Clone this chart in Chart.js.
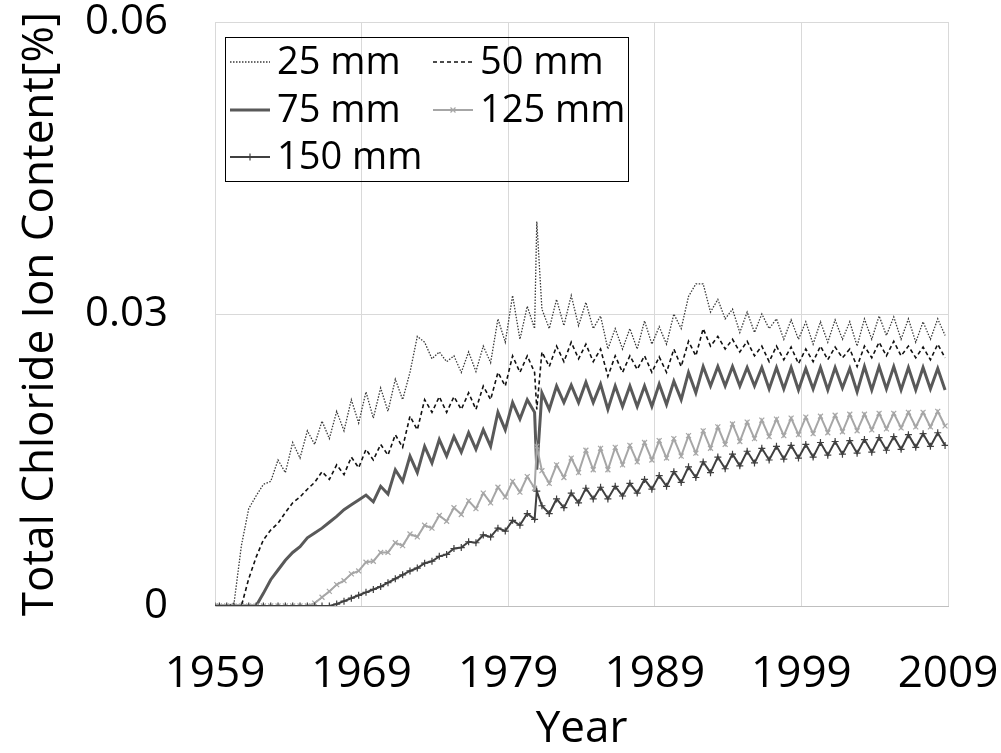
<!DOCTYPE html>
<html>
<head>
<meta charset="utf-8">
<title>Total Chloride Ion Content</title>
<script src="https://cdn.jsdelivr.net/npm/chart.js@4.4.1/dist/chart.umd.min.js"></script>
<style>
  html, body { margin: 0; padding: 0; background: #fff; }
  canvas { display: block; }
</style>
</head>
<body>
<canvas id="chart" width="1001" height="753"></canvas>
<script>
  // Profundidades (series) y lecturas semestrales (pico / valle de cada año).
  const DEPTHS = ["25 mm", "50 mm", "75 mm", "125 mm", "150 mm"];
  const X_TICKS = [1959, 1969, 1979, 1989, 1999, 2009];
  const Y_TICKS = [0, 0.03, 0.06];

  // Primer valor = 1959.0; después dos lecturas por año (año+0.3, año+0.8).
  const Y25 = [0,
    0,0, 0.0003,0.0062, 0.0100,0.0113, 0.0125,0.0128, 0.0150,0.0137, 0.0168,0.0152, 0.0180,0.0166, 0.0190,0.0172, 0.0200,0.0180, 0.0212,0.0188,
    0.0220,0.0193, 0.0224,0.0200, 0.0233,0.0212, 0.0240,0.0277, 0.0271,0.0254, 0.0261,0.0251, 0.0257,0.0240, 0.0261,0.0241, 0.0267,0.0250, 0.0295,0.0271,
    0.0319,0.0274, 0.0308,0.0285, 0.0305,0.0285, 0.0315,0.0288, 0.0319,0.0288, 0.0312,0.0285, 0.0298,0.0264, 0.0285,0.0264, 0.0285,0.0264, 0.0293,0.0269,
    0.0287,0.0269, 0.0300,0.0285, 0.0318,0.0331, 0.0331,0.0302, 0.0315,0.0295, 0.0305,0.0281, 0.0302,0.0281, 0.0300,0.0285, 0.0295,0.0274, 0.0294,0.0274,
    0.0292,0.0269, 0.0292,0.0271, 0.0294,0.0274, 0.0292,0.0267, 0.0295,0.0274, 0.0298,0.0278, 0.0297,0.0274, 0.0295,0.0271, 0.0292,0.0274, 0.0295,0.0278];
  const Y50 = [0,
    0,0, 0,0, 0.0028,0.0050, 0.0068,0.0078, 0.0085,0.0096, 0.0106,0.0112, 0.0120,0.0127, 0.0138,0.0130, 0.0145,0.0135, 0.0153,0.0142,
    0.0161,0.0150, 0.0166,0.0155, 0.0176,0.0163, 0.0195,0.0181, 0.0212,0.0199, 0.0215,0.0199, 0.0215,0.0202, 0.0219,0.0202, 0.0226,0.0212, 0.0240,0.0226,
    0.0257,0.0240, 0.0257,0.0240, 0.0261,0.0246, 0.0267,0.0251, 0.0271,0.0254, 0.0269,0.0251, 0.0264,0.0236, 0.0257,0.0240, 0.0257,0.0243, 0.0257,0.0240,
    0.0256,0.0240, 0.0264,0.0246, 0.0272,0.0257, 0.0285,0.0267, 0.0277,0.0264, 0.0274,0.0261, 0.0272,0.0257, 0.0267,0.0251, 0.0267,0.0253, 0.0266,0.0249,
    0.0264,0.0251, 0.0267,0.0253, 0.0266,0.0255, 0.0264,0.0246, 0.0267,0.0255, 0.0271,0.0257, 0.0272,0.0257, 0.0267,0.0255, 0.0266,0.0253, 0.0269,0.0255];
  const Y75 = [0,
    0,0, 0,0, 0,0, 0.0013,0.0027, 0.0037,0.0047, 0.0055,0.0061, 0.0070,0.0075, 0.0080,0.0086, 0.0092,0.0099, 0.0104,0.0109,
    0.0114,0.0107, 0.0123,0.0115, 0.0140,0.0128, 0.0154,0.0137, 0.0164,0.0147, 0.0171,0.0154, 0.0174,0.0158, 0.0178,0.0161, 0.0181,0.0164, 0.0199,0.0181,
    0.0209,0.0192, 0.0212,0.0199, 0.0219,0.0202, 0.0226,0.0209, 0.0227,0.0209, 0.0230,0.0209, 0.0228,0.0202, 0.0226,0.0205, 0.0226,0.0205, 0.0226,0.0205,
    0.0228,0.0207, 0.0231,0.0212, 0.0240,0.0219, 0.0246,0.0226, 0.0246,0.0226, 0.0246,0.0226, 0.0245,0.0226, 0.0245,0.0223, 0.0245,0.0223, 0.0245,0.0222,
    0.0244,0.0223, 0.0245,0.0222, 0.0245,0.0224, 0.0244,0.0220, 0.0246,0.0222, 0.0246,0.0223, 0.0246,0.0222, 0.0245,0.0222, 0.0245,0.0223, 0.0244,0.0222];
  const Y125 = [0,
    0,0, 0,0, 0,0, 0,0, 0,0, 0,0, 0,0.0003, 0.0009,0.0015, 0.0022,0.0026, 0.0033,0.0036,
    0.0045,0.0046, 0.0055,0.0055, 0.0065,0.0062, 0.0074,0.0071, 0.0083,0.0080, 0.0093,0.0087, 0.0101,0.0094, 0.0108,0.0100, 0.0116,0.0106, 0.0122,0.0112,
    0.0128,0.0117, 0.0133,0.0121, 0.0139,0.0126, 0.0145,0.0132, 0.0152,0.0137, 0.0160,0.0140, 0.0162,0.0140, 0.0163,0.0145, 0.0165,0.0148, 0.0168,0.0150,
    0.0170,0.0152, 0.0172,0.0154, 0.0175,0.0157, 0.0180,0.0162, 0.0184,0.0166, 0.0187,0.0169, 0.0189,0.0172, 0.0191,0.0174, 0.0192,0.0175, 0.0193,0.0176,
    0.0194,0.0177, 0.0195,0.0178, 0.0196,0.0179, 0.0197,0.0180, 0.0197,0.0181, 0.0198,0.0182, 0.0198,0.0183, 0.0199,0.0184, 0.0199,0.0184, 0.0200,0.0185];
  const Y150 = [0,
    0,0, 0,0, 0,0, 0,0, 0,0, 0,0, 0,0, 0,0, 0.0002,0.0005, 0.0008,0.0011,
    0.0014,0.0017, 0.0020,0.0024, 0.0028,0.0032, 0.0036,0.0039, 0.0044,0.0046, 0.0051,0.0053, 0.0059,0.0060, 0.0066,0.0065, 0.0073,0.0071, 0.0080,0.0077,
    0.0088,0.0083, 0.0095,0.0089, 0.0103,0.0095, 0.0110,0.0101, 0.0116,0.0106, 0.0121,0.0110, 0.0122,0.0110, 0.0123,0.0113, 0.0126,0.0116, 0.0130,0.0120,
    0.0134,0.0123, 0.0138,0.0127, 0.0143,0.0132, 0.0148,0.0137, 0.0153,0.0141, 0.0156,0.0144, 0.0159,0.0147, 0.0162,0.0150, 0.0164,0.0151, 0.0165,0.0152,
    0.0166,0.0153, 0.0168,0.0155, 0.0169,0.0156, 0.0170,0.0157, 0.0171,0.0158, 0.0173,0.0160, 0.0174,0.0161, 0.0176,0.0163, 0.0177,0.0164, 0.0178,0.0165];

  // Mes anómalo de finales de 1980 (pico/caída en todas las series).
  const SPIKE_YEAR = 1980.95;
  const SPIKE = [0.0395, 0.0202, 0.0140, 0.0164, 0.0118];

  const SERIES = [Y25, Y50, Y75, Y125, Y150];

  // Eje temporal: 1959.0 y luego dos lecturas por año.
  const TIMES = [1959];
  for (let y = 1959; y < 2009; y++) TIMES.push(y + 0.3, y + 0.8);

  const STYLES = [
    { borderColor: "#3a3a3a", borderWidth: 1.3, borderDash: [1.5, 1.5], pointRadius: 0 },
    { borderColor: "#111111", borderWidth: 1.6, borderDash: [4, 3], pointRadius: 0 },
    { borderColor: "#595959", borderWidth: 3, borderDash: [], pointRadius: 0 },
    { borderColor: "#a6a6a6", borderWidth: 2, borderDash: [], pointRadius: 3.5, pointStyle: "crossRot" },
    { borderColor: "#404040", borderWidth: 2, borderDash: [], pointRadius: 3.5, pointStyle: "cross" },
  ];

  function points(vals, k) {
    const pts = TIMES.map((t, i) => ({ x: t, y: vals[i] }));
    pts.push({ x: SPIKE_YEAR, y: SPIKE[k] });
    return pts.sort((a, b) => a.x - b.x);
  }

  const datasets = SERIES.map((vals, k) => Object.assign({
    label: DEPTHS[k],
    data: points(vals, k),
    fill: false,
    tension: 0,
    pointBorderWidth: 1.2,
    pointBackgroundColor: STYLES[k].borderColor,
    pointBorderColor: STYLES[k].borderColor,
    order: SERIES.length - k,
  }, STYLES[k]));

  const FONT = "'Open Sans', 'Noto Sans', sans-serif";

  // Leyenda con marco, dentro del área del gráfico (2 columnas).
  const boxLegend = {
    id: "boxLegend",
    afterDraw(chart) {
      const c = chart.ctx, a = chart.chartArea;
      const bx = a.left + 10, by = a.top + 15, bw = 403, bh = 144;
      c.save();
      c.strokeStyle = "#000"; c.lineWidth = 1;
      c.strokeRect(bx + 0.5, by + 0.5, bw, bh);
      const slots = [[5, 25], [208, 25], [5, 73], [208, 73], [5, 120]];
      chart.data.datasets.forEach((ds, i) => {
        const [ox, oy] = slots[i];
        const x0 = bx + ox, y = by + oy;
        c.save();
        c.strokeStyle = ds.borderColor; c.lineWidth = ds.borderWidth;
        c.setLineDash(ds.borderDash || []);
        c.beginPath(); c.moveTo(x0, y); c.lineTo(x0 + 40, y); c.stroke();
        c.restore();
        if (ds.pointRadius > 0) {
          c.save();
          c.strokeStyle = ds.borderColor; c.fillStyle = ds.borderColor;
          c.lineWidth = ds.pointBorderWidth;
          Chart.helpers.drawPoint(c, { pointStyle: ds.pointStyle, radius: ds.pointRadius, borderWidth: ds.pointBorderWidth, rotation: 0 }, x0 + 20, y);
          c.restore();
        }
        c.fillStyle = "#000"; c.font = "38px " + FONT;
        c.textBaseline = "middle"; c.textAlign = "left";
        c.fillText(ds.label, x0 + 47, y + 1);
      });
      c.restore();
    },
  };

  new Chart(document.getElementById("chart"), {
    type: "line",
    data: { datasets },
    plugins: [boxLegend],
    options: {
      responsive: false, animation: false, devicePixelRatio: 1,
      layout: { padding: { left: 0, right: 53, top: 22, bottom: 0 } },
      plugins: { legend: { display: false }, tooltip: { enabled: false } },
      scales: {
        x: {
          type: "linear", min: 1959, max: 2009,
          afterBuildTicks: (s) => { s.ticks = X_TICKS.map((v) => ({ value: v })); },
          // Altura fija y sin relleno extra por las etiquetas de los extremos.
          afterFit: (s) => { s.height = 147; s.paddingLeft = 0; s.paddingRight = 0; },
          grid: { color: "#d9d9d9", drawTicks: false },
          border: { color: "#bfbfbf" },
          ticks: { color: "#000", padding: 46, maxRotation: 0, font: { family: FONT, size: 44, lineHeight: 1 }, callback: (v) => String(v) },
          title: { display: true, text: "Year", color: "#000", padding: { top: 0, bottom: 2 }, font: { family: FONT, size: 44, lineHeight: 1 } },
        },
        y: {
          min: 0, max: 0.06,
          afterBuildTicks: (s) => { s.ticks = Y_TICKS.map((v) => ({ value: v })); },
          afterFit: (s) => { s.width = 215; s.paddingTop = 0; s.paddingBottom = 0; },
          grid: { color: "#d9d9d9", drawTicks: false },
          border: { color: "#d9d9d9" },
          ticks: { color: "#000", padding: 47, font: { family: FONT, size: 42, lineHeight: 1 }, callback: (v) => (v === 0 ? "0" : v.toFixed(2)) },
          title: { display: true, text: "Total Chloride Ion Content[%]", color: "#000", padding: { top: 18, bottom: 0 }, font: { family: FONT, size: 44, lineHeight: 1 } },
        },
      },
    },
  });
</script>
</body>
</html>
